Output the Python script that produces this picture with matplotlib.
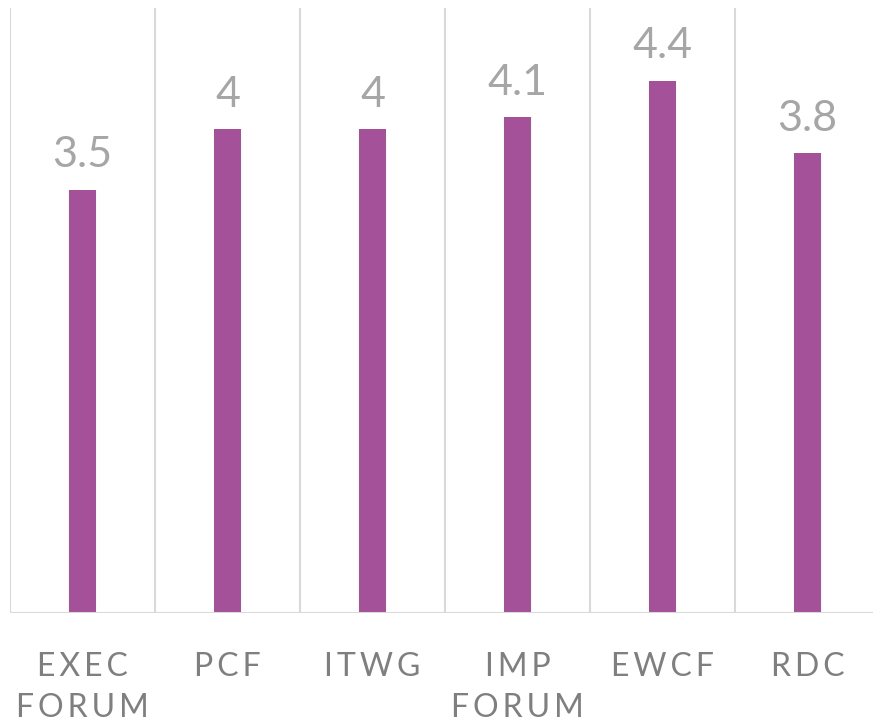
import matplotlib.pyplot as plt

categories = ["EXEC\nFORUM", "PCF", "ITWG", "IMP\nFORUM", "EWCF", "RDC"]
values = [3.5, 4.0, 4.0, 4.1, 4.4, 3.8]
value_labels = ["3.5", "4", "4", "4.1", "4.4", "3.8"]

BAR_COLOR = "#A4519A"
VALUE_COLOR = "#A6A6A6"
CAT_COLOR = "#7F7F7F"
GRID_COLOR = "#D9D9D9"
THIN = "\u2009"


def spaced(text):
    # stretch letters a bit like the original's character spacing
    return "\n".join(THIN.join(line) for line in text.split("\n"))


plt.rcParams["font.family"] = ["Lato", "DejaVu Sans"]

fig = plt.figure(figsize=(8.73, 7.23), dpi=100)
ax = fig.add_axes([10 / 873, 1 - 613 / 723, 870 / 873, 605 / 723])

x = range(len(categories))
ax.bar(x, values, width=0.19, color=BAR_COLOR, zorder=3)
ax.set_xlim(-0.5, len(categories) - 0.5)
ax.set_ylim(0, 5)

for i, (v, lab) in enumerate(zip(values, value_labels)):
    ax.annotate(lab, (i, v), xytext=(0, 16), textcoords="offset points",
                ha="center", va="baseline", fontsize=31, color=VALUE_COLOR)

# category separators
for b in [i - 0.5 for i in range(len(categories) + 1)]:
    ax.axvline(b, color=GRID_COLOR, lw=1.5, zorder=1)

for s in ax.spines.values():
    s.set_visible(False)
ax.axhline(0, color=GRID_COLOR, lw=1.5, zorder=4)

ax.set_yticks([])
ax.set_xticks(list(x))
ax.set_xticklabels([spaced(c) for c in categories], fontsize=23,
                   color=CAT_COLOR, linespacing=1.45)
ax.tick_params(axis="x", length=0, pad=28)

fig.savefig("out.png", dpi=100)
